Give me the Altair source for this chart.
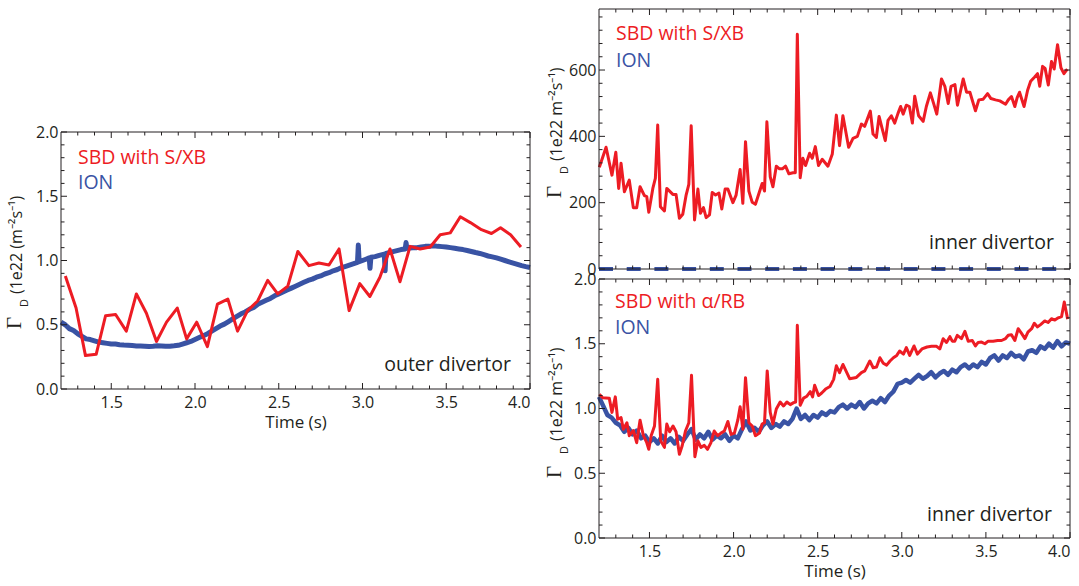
import altair as alt
import pandas as pd

RED = "#ed1c24"
BLUE = "#3953a4"
INK = "#231f20"
FONT = "Open Sans"

# ---------------- data (time s, value) ----------------
outer_sbd = [(1.226, 0.88), (1.29, 0.63), (1.346, 0.26), (1.41, 0.27), (1.466, 0.57), (1.526, 0.58),
             (1.59, 0.45), (1.65, 0.74), (1.71, 0.59), (1.77, 0.37), (1.83, 0.52), (1.894, 0.63),
             (1.95, 0.39), (2.01, 0.52), (2.074, 0.33), (2.134, 0.66), (2.196, 0.70), (2.254, 0.45),
             (2.314, 0.61), (2.374, 0.685), (2.434, 0.845), (2.494, 0.74), (2.554, 0.80), (2.614, 1.07),
             (2.68, 0.96), (2.74, 0.98), (2.80, 0.965), (2.86, 1.09), (2.92, 0.61), (2.984, 0.82),
             (3.044, 0.72), (3.104, 0.87), (3.164, 1.09), (3.224, 0.835), (3.284, 1.11), (3.344, 1.09),
             (3.404, 1.105), (3.464, 1.20), (3.524, 1.215), (3.584, 1.34), (3.644, 1.295), (3.71, 1.24),
             (3.77, 1.21), (3.824, 1.255), (3.884, 1.20), (3.946, 1.105)]

outer_ion = [(1.20, 0.52), (1.225, 0.50), (1.25, 0.47), (1.275, 0.455), (1.30, 0.43), (1.325, 0.41),
             (1.35, 0.39), (1.375, 0.385), (1.40, 0.375), (1.425, 0.365), (1.45, 0.36), (1.475, 0.355),
             (1.50, 0.35), (1.525, 0.35), (1.55, 0.345), (1.575, 0.342), (1.60, 0.34), (1.625, 0.338),
             (1.65, 0.335), (1.675, 0.334), (1.70, 0.333), (1.725, 0.33), (1.75, 0.332), (1.775, 0.336),
             (1.80, 0.335), (1.825, 0.332), (1.85, 0.333), (1.875, 0.336), (1.90, 0.34), (1.925, 0.35),
             (1.95, 0.36), (1.975, 0.37), (2.00, 0.385), (2.025, 0.40), (2.05, 0.415), (2.075, 0.43),
             (2.10, 0.45), (2.125, 0.47), (2.15, 0.49), (2.175, 0.505), (2.20, 0.525), (2.225, 0.545),
             (2.25, 0.565), (2.275, 0.585), (2.30, 0.60), (2.325, 0.62), (2.35, 0.635), (2.375, 0.66),
             (2.40, 0.675), (2.425, 0.69), (2.45, 0.705), (2.475, 0.725), (2.50, 0.74), (2.525, 0.755),
             (2.55, 0.77), (2.575, 0.785), (2.60, 0.80), (2.625, 0.815), (2.65, 0.83), (2.675, 0.845),
             (2.70, 0.855), (2.725, 0.87), (2.75, 0.88), (2.775, 0.895), (2.80, 0.905), (2.825, 0.92),
             (2.85, 0.93), (2.875, 0.945), (2.90, 0.955), (2.935, 0.97), (2.97, 0.985), (2.975, 1.12),
             (2.98, 0.99), (3.00, 1.00), (3.02, 1.01), (3.04, 1.02), (3.045, 0.94), (3.05, 1.025),
             (3.075, 1.03), (3.10, 1.04), (3.13, 1.05), (3.135, 0.92), (3.14, 1.055), (3.17, 1.065),
             (3.20, 1.075), (3.23, 1.085), (3.255, 1.09), (3.26, 1.14), (3.265, 1.095), (3.30, 1.10),
             (3.325, 1.10), (3.35, 1.105), (3.375, 1.11), (3.40, 1.11), (3.425, 1.115), (3.45, 1.11),
             (3.475, 1.108), (3.50, 1.105), (3.525, 1.10), (3.55, 1.095), (3.575, 1.09), (3.60, 1.085),
             (3.625, 1.078), (3.65, 1.07), (3.675, 1.062), (3.70, 1.055), (3.725, 1.045), (3.75, 1.035),
             (3.775, 1.028), (3.80, 1.02), (3.825, 1.01), (3.85, 1.00), (3.875, 0.99), (3.90, 0.98),
             (3.925, 0.97), (3.95, 0.96), (3.975, 0.952), (4.00, 0.945)]

inner_sxb = [(1.202, 307), (1.242, 367), (1.277, 283), (1.300, 352), (1.317, 243), (1.331, 319),
             (1.351, 233), (1.380, 268), (1.404, 185), (1.424, 185), (1.444, 248), (1.470, 221),
             (1.484, 218), (1.496, 171), (1.520, 243), (1.535, 273), (1.549, 434), (1.565, 188),
             (1.589, 175), (1.603, 243), (1.639, 225), (1.658, 225), (1.678, 153), (1.698, 165),
             (1.718, 223), (1.734, 255), (1.748, 432), (1.768, 148), (1.788, 241), (1.803, 168),
             (1.821, 185), (1.837, 155), (1.857, 163), (1.873, 231), (1.893, 223), (1.913, 229),
             (1.930, 181), (1.950, 241), (1.966, 241), (1.996, 200), (2.015, 223), (2.039, 300),
             (2.055, 198), (2.071, 384), (2.091, 235), (2.111, 201), (2.130, 195), (2.154, 233),
             (2.170, 258), (2.184, 235), (2.198, 444), (2.218, 278), (2.234, 248), (2.254, 310),
             (2.273, 302), (2.290, 302), (2.309, 310), (2.329, 287), (2.353, 290), (2.367, 290),
             (2.379, 708), (2.396, 275), (2.412, 334), (2.428, 312), (2.452, 349), (2.468, 334),
             (2.486, 369), (2.505, 312), (2.527, 331), (2.561, 310), (2.587, 347), (2.611, 464),
             (2.630, 372), (2.650, 462), (2.684, 367), (2.710, 394), (2.736, 400), (2.760, 437),
             (2.779, 430), (2.813, 476), (2.829, 407), (2.849, 397), (2.865, 460), (2.883, 424),
             (2.902, 387), (2.918, 448), (2.938, 462), (2.958, 440), (2.978, 470), (2.993, 490),
             (3.008, 467), (3.027, 494), (3.045, 490), (3.063, 440), (3.077, 521), (3.100, 462),
             (3.127, 445), (3.146, 490), (3.170, 531), (3.190, 498), (3.208, 467), (3.236, 573),
             (3.256, 551), (3.276, 499), (3.293, 551), (3.316, 556), (3.331, 494), (3.365, 573),
             (3.385, 533), (3.405, 533), (3.438, 477), (3.458, 510), (3.484, 512), (3.510, 529),
             (3.530, 514), (3.557, 510), (3.583, 507), (3.617, 497), (3.633, 510), (3.652, 520),
             (3.672, 490), (3.686, 517), (3.700, 533), (3.727, 490), (3.748, 539), (3.766, 566),
             (3.790, 579), (3.807, 589), (3.820, 551), (3.837, 611), (3.852, 605), (3.871, 555),
             (3.890, 626), (3.906, 603), (3.926, 676), (3.946, 607), (3.964, 589), (3.984, 603)]

inner_ion_top = [(1.2, 0.0), (4.0, 0.0)]

inner_arb = [(1.202, 1.11), (1.222, 1.083), (1.261, 1.08), (1.277, 0.97), (1.297, 1.09), (1.311, 0.917),
             (1.331, 0.93), (1.345, 0.84), (1.366, 0.89), (1.380, 0.79), (1.404, 0.83), (1.424, 0.736),
             (1.444, 0.91), (1.464, 0.79), (1.484, 0.736), (1.496, 0.685), (1.510, 0.79), (1.530, 0.865),
             (1.549, 1.225), (1.567, 0.75), (1.589, 0.70), (1.603, 0.88), (1.620, 0.82), (1.640, 0.865),
             (1.658, 0.82), (1.678, 0.646), (1.694, 0.71), (1.714, 0.826), (1.734, 0.89), (1.750, 1.256),
             (1.770, 0.628), (1.788, 0.75), (1.806, 0.70), (1.826, 0.715), (1.845, 0.685), (1.865, 0.735),
             (1.885, 0.826), (1.905, 0.79), (1.925, 0.81), (1.945, 0.826), (1.966, 0.90), (1.985, 0.80),
             (2.005, 0.81), (2.025, 0.91), (2.039, 1.014), (2.055, 0.84), (2.071, 1.238), (2.091, 0.89),
             (2.111, 0.865), (2.130, 0.79), (2.154, 0.81), (2.170, 0.88), (2.184, 0.89), (2.200, 1.29),
             (2.218, 0.97), (2.234, 0.88), (2.254, 0.996), (2.277, 1.05), (2.297, 1.02), (2.317, 1.05),
             (2.337, 1.03), (2.357, 1.045), (2.369, 1.05), (2.379, 1.643), (2.396, 1.025), (2.416, 1.08),
             (2.436, 1.095), (2.456, 1.13), (2.470, 1.09), (2.482, 1.18), (2.505, 1.10), (2.524, 1.12),
             (2.547, 1.15), (2.573, 1.17), (2.595, 1.225), (2.611, 1.33), (2.630, 1.277), (2.650, 1.34),
             (2.690, 1.23), (2.730, 1.24), (2.760, 1.277), (2.780, 1.29), (2.810, 1.367), (2.830, 1.315),
             (2.850, 1.32), (2.870, 1.392), (2.890, 1.35), (2.910, 1.335), (2.930, 1.367), (2.950, 1.392),
             (2.970, 1.41), (2.987, 1.444), (3.010, 1.42), (3.027, 1.47), (3.047, 1.41), (3.073, 1.483),
             (3.093, 1.42), (3.120, 1.46), (3.150, 1.475), (3.177, 1.48), (3.207, 1.48), (3.226, 1.46),
             (3.246, 1.539), (3.266, 1.51), (3.286, 1.555), (3.300, 1.52), (3.315, 1.52), (3.330, 1.565),
             (3.355, 1.54), (3.375, 1.596), (3.395, 1.52), (3.419, 1.525), (3.438, 1.483), (3.454, 1.51),
             (3.474, 1.513), (3.494, 1.50), (3.514, 1.52), (3.543, 1.52), (3.570, 1.525), (3.593, 1.525),
             (3.617, 1.54), (3.633, 1.565), (3.652, 1.57), (3.672, 1.525), (3.692, 1.616), (3.712, 1.58),
             (3.732, 1.54), (3.750, 1.59), (3.772, 1.616), (3.788, 1.658), (3.807, 1.63), (3.827, 1.65),
             (3.850, 1.676), (3.870, 1.664), (3.890, 1.693), (3.910, 1.683), (3.930, 1.70), (3.950, 1.71),
             (3.966, 1.822), (3.986, 1.69)]

inner_ion = [(1.200, 1.09), (1.225, 1.02), (1.250, 0.95), (1.275, 0.93), (1.300, 0.89), (1.325, 0.87),
             (1.350, 0.82), (1.375, 0.85), (1.400, 0.80), (1.425, 0.83), (1.450, 0.77), (1.475, 0.79),
             (1.500, 0.74), (1.525, 0.77), (1.550, 0.73), (1.575, 0.79), (1.600, 0.74), (1.625, 0.77),
             (1.650, 0.73), (1.675, 0.78), (1.700, 0.75), (1.725, 0.80), (1.750, 0.84), (1.775, 0.76),
             (1.800, 0.80), (1.825, 0.77), (1.850, 0.82), (1.875, 0.76), (1.900, 0.79), (1.925, 0.77),
             (1.950, 0.80), (1.975, 0.75), (2.000, 0.79), (2.025, 0.77), (2.050, 0.84), (2.075, 0.90),
             (2.100, 0.83), (2.125, 0.85), (2.150, 0.82), (2.175, 0.87), (2.200, 0.90), (2.225, 0.85),
             (2.250, 0.88), (2.275, 0.86), (2.300, 0.90), (2.325, 0.88), (2.350, 0.92), (2.375, 1.00),
             (2.400, 0.92), (2.425, 0.95), (2.450, 0.91), (2.475, 0.95), (2.500, 0.93), (2.525, 0.97),
             (2.550, 0.95), (2.575, 0.98), (2.600, 0.97), (2.625, 1.01), (2.650, 1.03), (2.675, 1.00),
             (2.700, 1.03), (2.725, 1.01), (2.750, 1.05), (2.775, 1.00), (2.800, 1.04), (2.825, 1.06),
             (2.850, 1.04), (2.875, 1.08), (2.900, 1.05), (2.925, 1.10), (2.950, 1.13), (2.975, 1.19),
             (3.000, 1.20), (3.025, 1.22), (3.050, 1.20), (3.075, 1.23), (3.100, 1.26), (3.125, 1.23),
             (3.150, 1.25), (3.175, 1.28), (3.200, 1.24), (3.225, 1.27), (3.250, 1.29), (3.275, 1.26),
             (3.300, 1.30), (3.325, 1.28), (3.350, 1.32), (3.375, 1.34), (3.400, 1.31), (3.425, 1.34),
             (3.450, 1.32), (3.475, 1.36), (3.500, 1.34), (3.525, 1.39), (3.550, 1.41), (3.575, 1.37),
             (3.600, 1.41), (3.625, 1.39), (3.650, 1.43), (3.675, 1.40), (3.700, 1.41), (3.725, 1.38),
             (3.750, 1.44), (3.775, 1.45), (3.800, 1.43), (3.825, 1.48), (3.850, 1.46), (3.875, 1.50),
             (3.900, 1.47), (3.925, 1.52), (3.950, 1.48), (3.975, 1.51), (4.000, 1.50)]

# axis tick values
x_major = [1.5, 2.0, 2.5, 3.0, 3.5, 4.0]
x_minor = [1.3, 1.4, 1.6, 1.7, 1.8, 1.9, 2.1, 2.2, 2.3, 2.4, 2.6, 2.7, 2.8, 2.9,
           3.1, 3.2, 3.3, 3.4, 3.6, 3.7, 3.8, 3.9]
flux_major = [0.0, 0.5, 1.0, 1.5, 2.0]
flux_minor = [0.1, 0.2, 0.3, 0.4, 0.6, 0.7, 0.8, 0.9, 1.1, 1.2, 1.3, 1.4, 1.6, 1.7, 1.8, 1.9]
big_major = [0, 200, 400, 600]
big_minor = [40, 80, 120, 160, 240, 280, 320, 360, 440, 480, 520, 560, 640, 680, 720, 760]

DUMMY = pd.DataFrame({"a": [0]})


def panel(width, height, ydomain, ymajor, yminor, yfmt, series, texts, title_parts, show_x, off=0):
    total = off + height
    xs = alt.Scale(domain=[1.2, 4.0], nice=False, zero=False)
    ys = alt.Scale(domain=ydomain, nice=False, zero=False, range=[total, off])
    if show_x:
        xaxis = alt.Axis(values=x_major, format=".1f", title="Time (s)", ticks=False, tickSize=0,
                         domain=False, grid=False, labelFont=FONT, labelFontSize=16, labelColor=INK,
                         labelPadding=5, titleFont=FONT, titleFontSize=17, titleFontWeight="normal",
                         titleColor=INK, titlePadding=4)
    else:
        xaxis = None
    yaxis = alt.Axis(values=ymajor, format=yfmt, title=None, ticks=False, tickSize=0, domain=False,
                     grid=False, labelFont=FONT, labelFontSize=16, labelColor=INK, labelPadding=3)
    X = alt.X("t:Q", scale=xs, axis=xaxis)
    Y = alt.Y("v:Q", scale=ys, axis=yaxis)
    layers = []
    for pts, color, sw, dash in series:
        df = pd.DataFrame(pts, columns=["t", "v"])
        kw = dict(color=color, strokeWidth=sw, strokeJoin="round")
        if dash:
            kw["strokeDash"] = dash
        layers.append(alt.Chart(df).mark_line(**kw).encode(x=X, y=Y))
    # frame
    rule = dict(color=INK, strokeWidth=1)
    layers.append(alt.Chart(DUMMY).mark_rule(**rule).encode(
        x=alt.value(0), x2=alt.value(width), y=alt.value(off)))
    layers.append(alt.Chart(DUMMY).mark_rule(**rule).encode(
        x=alt.value(0), x2=alt.value(width), y=alt.value(total)))
    layers.append(alt.Chart(DUMMY).mark_rule(**rule).encode(
        x=alt.value(0), y=alt.value(off), y2=alt.value(total)))
    layers.append(alt.Chart(DUMMY).mark_rule(**rule).encode(
        x=alt.value(width), y=alt.value(off), y2=alt.value(total)))
    # inward ticks on all four sides
    for vals, L in [(x_major, 6), (x_minor, 3.5)]:
        df = pd.DataFrame({"t": vals})
        layers.append(alt.Chart(df).mark_rule(**rule).encode(
            x=X, y=alt.value(total), y2=alt.value(total - L)))
        layers.append(alt.Chart(df).mark_rule(**rule).encode(
            x=X, y=alt.value(off), y2=alt.value(off + L)))
    for vals, L in [(ymajor, 6), (yminor, 3.5)]:
        df = pd.DataFrame({"v": vals})
        layers.append(alt.Chart(df).mark_rule(**rule).encode(
            y=Y, x=alt.value(0), x2=alt.value(L)))
        layers.append(alt.Chart(df).mark_rule(**rule).encode(
            y=Y, x=alt.value(width), x2=alt.value(width - L)))
    for txt, px, py, align, color in texts:
        layers.append(alt.Chart(DUMMY).mark_text(text=txt, align=align, baseline="alphabetic",
                                                 font=FONT, fontSize=19.5, color=color).encode(
            x=alt.value(px), y=alt.value(py + off)))
    for txt, px, py, size, fnt in title_parts:
        layers.append(alt.Chart(DUMMY).mark_text(text=txt, align="left", baseline="alphabetic",
                                                 angle=270, font=fnt, fontSize=size, color=INK).encode(
            x=alt.value(px), y=alt.value(py + off)))
    return alt.layer(*layers).properties(width=width, height=total)


left = panel(469, 257, [0, 2], flux_major, flux_minor, ".1f",
             [(outer_ion, BLUE, 5, None), (outer_sbd, RED, 3, None)],
             [("SBD with S/XB", 17, 32, "left", RED), ("ION", 17, 57, "left", BLUE),
              ("outer divertor", 450, 239, "right", INK)],
             [("Γ", -40, 197, 21, "Liberation Serif"), ("D", -33, 175, 11, FONT),
              ("(1e22 (m⁻²s⁻¹)", -39, 162, 16, FONT)],
             True, off=123)

top = panel(471, 260, [0, 784], big_major, big_minor, "d",
            [(inner_ion_top, BLUE, 4, [14, 13.7]), (inner_sxb, RED, 3, None)],
            [("SBD with S/XB", 17, 31, "left", RED), ("ION", 17, 58, "left", BLUE),
             ("inner divertor", 455, 240, "right", INK)],
            [("Γ", -38, 189, 21, "Liberation Serif"), ("D", -31, 165, 11, FONT),
             ("(1e22 m⁻²s⁻¹)", -37, 152, 16, FONT)],
            False)

bottom = panel(471, 259, [0, 2], flux_major, flux_minor, ".1f",
               [(inner_ion, BLUE, 4.5, None), (inner_arb, RED, 3, None)],
               [("SBD with α/RB", 16, 29, "left", RED), ("ION", 16, 55, "left", BLUE),
                ("inner divertor", 453, 242, "right", INK)],
               [("Γ", -38, 199, 21, "Liberation Serif"), ("D", -31, 175, 11, FONT),
                ("(1e22 m⁻²s⁻¹)", -37, 162, 16, FONT)],
               True)

right_col = alt.vconcat(top, bottom, spacing=10, bounds="flush")

chart = alt.hconcat(left, right_col, spacing=69, bounds="flush").properties(
    padding={"left": 4, "top": 8, "right": 0, "bottom": 4}
).configure(font=FONT).configure_view(stroke="transparent", strokeWidth=0)

chart.save("out.html", embed_options={"renderer": "svg", "actions": False})
